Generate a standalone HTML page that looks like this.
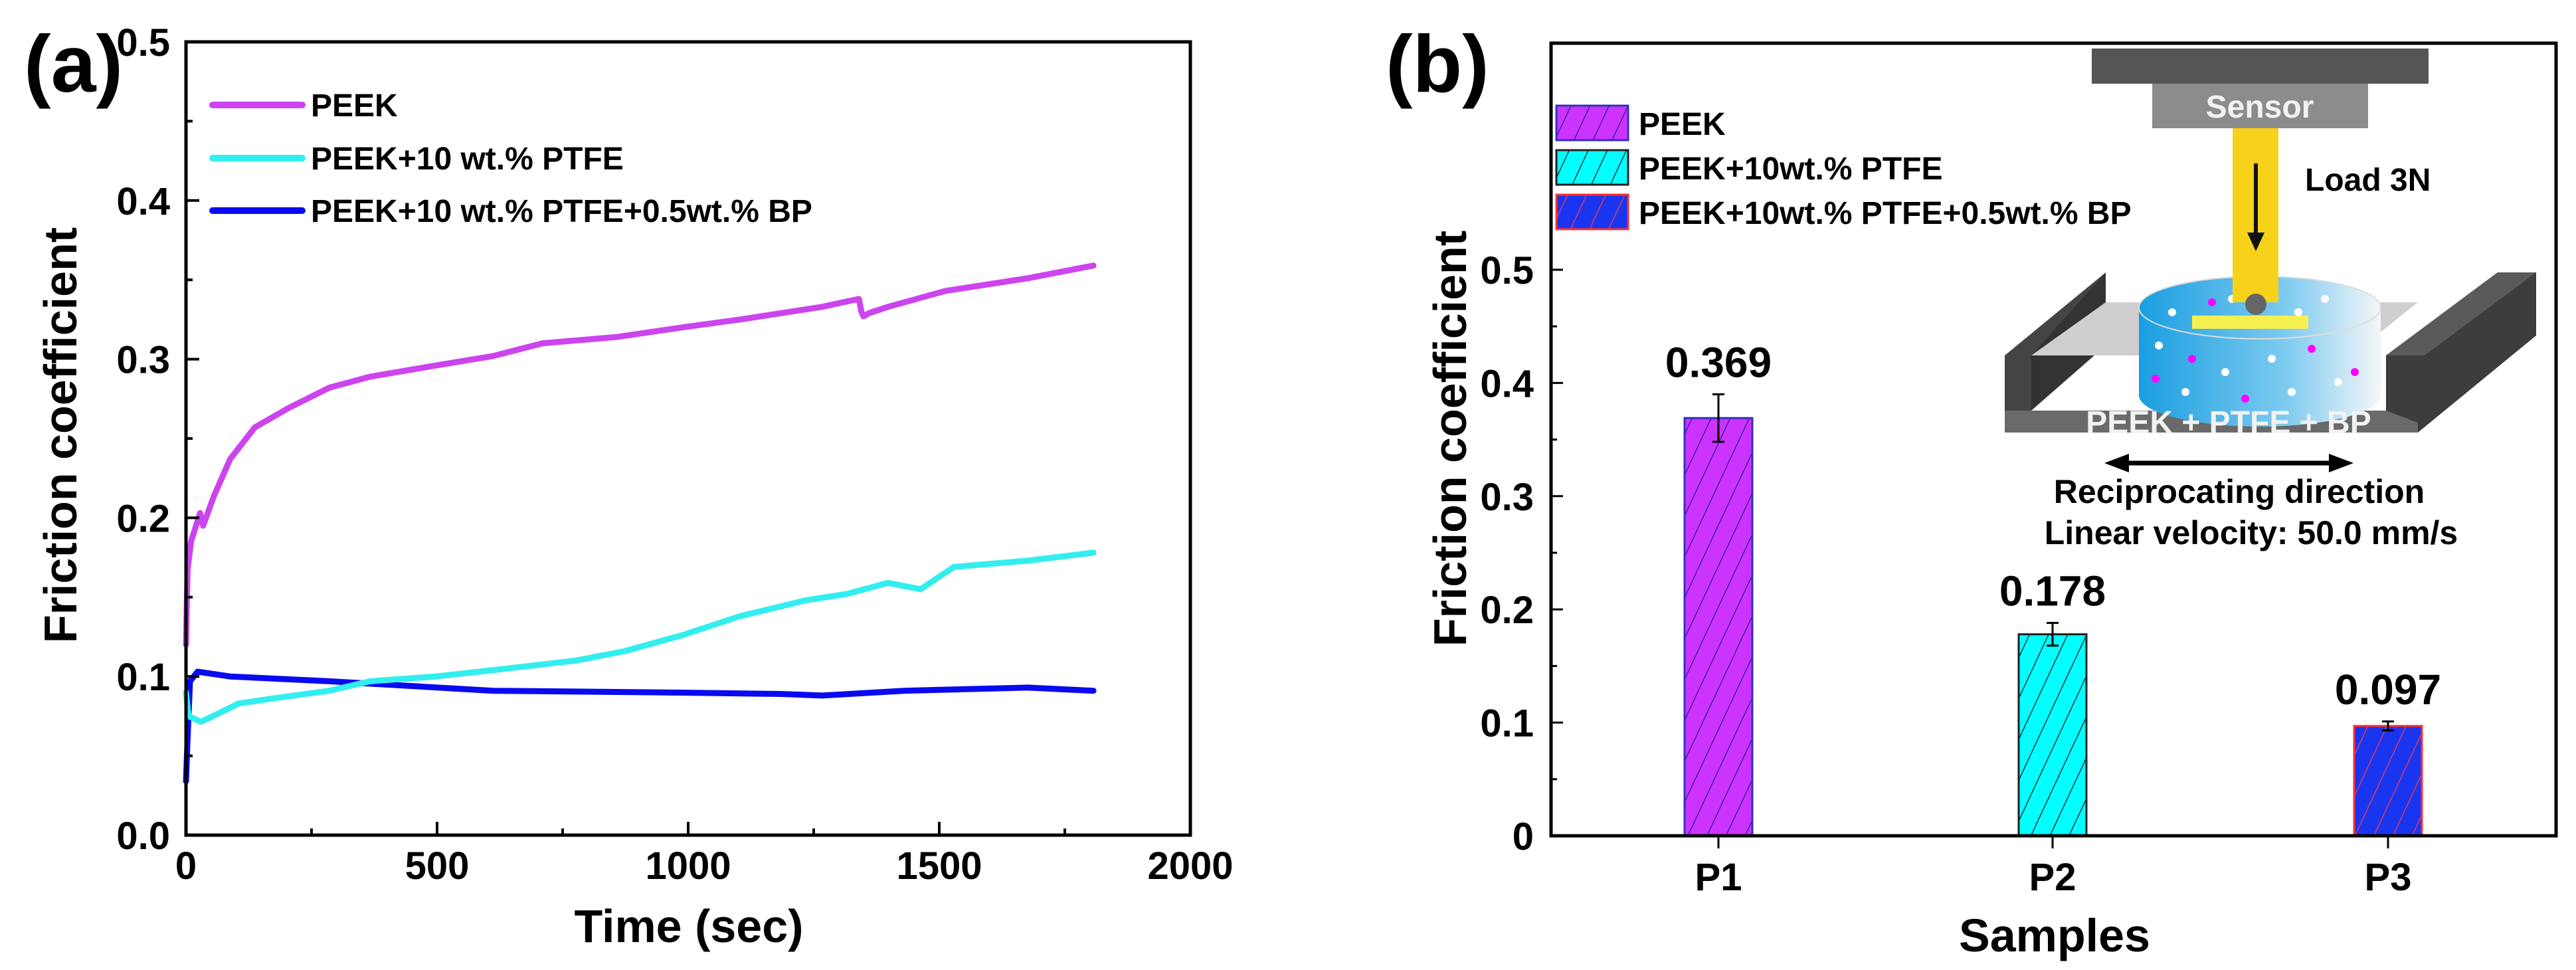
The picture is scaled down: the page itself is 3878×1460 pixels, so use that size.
<!DOCTYPE html>
<html><head><meta charset="utf-8"><style>
html,body{margin:0;padding:0;background:#fff}
svg{display:block}
text{font-family:"Liberation Sans",Arial,sans-serif;font-weight:bold;fill:#000}
</style></head><body>
<svg id="fig" width="3878" height="1460" viewBox="0 0 3878 1460" xmlns="http://www.w3.org/2000/svg">
<defs>
<pattern id="hatchP" patternUnits="userSpaceOnUse" width="26" height="26" patternTransform="rotate(25)"><rect width="26" height="26" fill="#cc33ff"/><line x1="0" y1="0" x2="0" y2="26" stroke="#2a1a80" stroke-width="2.5"/></pattern>
<pattern id="hatchC" patternUnits="userSpaceOnUse" width="26" height="26" patternTransform="rotate(25)"><rect width="26" height="26" fill="#00ffff"/><line x1="0" y1="0" x2="0" y2="26" stroke="#111" stroke-width="2.5"/></pattern>
<pattern id="hatchB" patternUnits="userSpaceOnUse" width="26" height="26" patternTransform="rotate(25)"><rect width="26" height="26" fill="#1a35f0"/><line x1="0" y1="0" x2="0" y2="26" stroke="#ff3b3b" stroke-width="2.5"/></pattern>
<linearGradient id="diskG" x1="0" y1="0" x2="1" y2="0"><stop offset="0" stop-color="#1a9ee0"/><stop offset="0.6" stop-color="#7ccaf0"/><stop offset="1" stop-color="#f4f6f8"/></linearGradient>
</defs>
<g id="panelA"></g>
<g id="panelB"></g>
</svg>
<script>
// ---------- Panel (a) data ----------
const aTicksX = [0, 500, 1000, 1500, 2000];
const aTicksY = [0.0, 0.1, 0.2, 0.3, 0.4, 0.5];
const aTickLabelsY = ["0.0","0.1","0.2","0.3","0.4","0.5"];
const aSeriesNames = ["PEEK","PEEK+10 wt.% PTFE","PEEK+10 wt.% PTFE+0.5wt.% BP"];
const peekT = [0,3,10,23,28,34,56,88,137,203,285,367,497,612,710,858,988,1103,1267,1340,1345,1349,1360,1398,1512,1676,1807];
const peekV = [0.12,0.167,0.185,0.198,0.203,0.195,0.214,0.237,0.257,0.269,0.282,0.289,0.296,0.302,0.31,0.314,0.32,0.325,0.333,0.338,0.33,0.327,0.329,0.333,0.343,0.351,0.359];
const ptfeT = [0,5,30,60,105,170,285,367,497,612,776,874,988,1103,1234,1316,1398,1463,1529,1676,1807];
const ptfeV = [0.09,0.075,0.0715,0.076,0.083,0.086,0.091,0.097,0.1,0.104,0.11,0.116,0.126,0.138,0.148,0.152,0.159,0.155,0.169,0.173,0.178];
const bpT = [0,3,8,23,88,285,448,612,939,1185,1267,1430,1676,1807];
const bpV = [0.034,0.06,0.097,0.103,0.1,0.097,0.094,0.091,0.09,0.089,0.088,0.091,0.093,0.091];
// ---------- Panel (b) data ----------
const bCategories = ["P1","P2","P3"];
const bValues = [0.369, 0.178, 0.097];
const bErrors = [0.021, 0.010, 0.004];
const bValueLabels = ["0.369","0.178","0.097"];
const bTicksY = [0, 0.1, 0.2, 0.3, 0.4, 0.5];
const bTickLabelsY = ["0","0.1","0.2","0.3","0.4","0.5"];
const bSeriesNames = ["PEEK","PEEK+10wt.% PTFE","PEEK+10wt.% PTFE+0.5wt.% BP"];

const NS = "http://www.w3.org/2000/svg";
function mk(parent, tag, attrs, txt){
  const e = document.createElementNS(NS, tag);
  for (const k in attrs) e.setAttribute(k, attrs[k]);
  if (txt !== undefined) e.textContent = txt;
  parent.appendChild(e);
  return e;
}

// ===== Panel A =====
const A = document.getElementById('panelA');
const aL=280, aR=1792, aT=63, aB=1257;
const ax = t => aL + (t/2000)*(aR-aL);
const ay = v => aB - (v/0.5)*(aB-aT);

let e;
e = mk(A,'text',{x:36,y:138,'font-size':122});
e.textContent='(a)';



const aColors = ["#cc44ee","#33eeee","#0a0af0"];
const aData = [[peekT,peekV],[ptfeT,ptfeV],[bpT,bpV]];
for (let s=2; s>=0; s--){
  const pts = aData[s][0].map((t,i)=>ax(t).toFixed(1)+','+ay(aData[s][1][i]).toFixed(1)).join(' ');
  e = mk(A,'polyline',{points:pts,fill:'none',stroke:aColors[s],'stroke-width':9,'stroke-linejoin':'round','stroke-linecap':'round'});
  
  
}
e = mk(A,'rect',{x:aL,y:aT,width:aR-aL,height:aB-aT,fill:'none',stroke:'#000','stroke-width':5});


for (let t=0;t<=2000;t+=250){
  const major = t%500===0;
  e = mk(A,'line',{x1:ax(t),x2:ax(t),y1:aB,y2:aB-(major?20:10),stroke:'#000','stroke-width':4});
  
  
}
aTicksX.forEach(t=>{
  e = mk(A,'text',{x:ax(t),y:1323,'font-size':58,'text-anchor':'middle'},String(t));
  
  
});
for (let k=0;k<=10;k++){
  const v=k*0.05, major=k%2===0;
  e = mk(A,'line',{x1:aL,x2:aL+(major?20:10),y1:ay(v),y2:ay(v),stroke:'#000','stroke-width':4});
  
  
}
aTicksY.forEach((v,i)=>{
  e = mk(A,'text',{x:256,y:ay(v)+21,'font-size':58,'text-anchor':'end'},aTickLabelsY[i]);
  
  
});
e = mk(A,'text',{x:1037,y:1418,'font-size':70,'text-anchor':'middle'},'Time (sec)');


e = mk(A,'text',{x:0,y:0,'font-size':70,'text-anchor':'middle',transform:'translate(115,655) rotate(-90)'},'Friction coefficient');


const aLegY=[158,238,317];
aSeriesNames.forEach((n,i)=>{
  const g = mk(A,'g',{});
  
  
  mk(g,'line',{x1:320,x2:455,y1:aLegY[i],y2:aLegY[i],stroke:aColors[i],'stroke-width':10,'stroke-linecap':'round'});
  mk(g,'text',{x:468,y:aLegY[i]+17,'font-size':48},n);
});

// ===== Panel B =====
const B = document.getElementById('panelB');
const bL=2335, bR=3848, bT=65, bB=1258;
const by = v => bB - v*1704;
const bxC = [2587, 3090, 3595];
const bW = 102;

e = mk(B,'text',{x:2086,y:138,'font-size':122},'(b)');



const I = mk(B,'g',{});


mk(I,'rect',{x:3149,y:73,width:507,height:53,fill:'#555'});
mk(I,'rect',{x:3240,y:126,width:325,height:67,fill:'#8c8c8c'});
mk(I,'text',{x:3402,y:177,'font-size':48,'text-anchor':'middle',style:'fill:#f2f2f2'},'Sensor');
mk(I,'polygon',{points:'3018,535 3170,410 3170,500 3058,585 3058,618 3018,618',fill:'#444'});
mk(I,'polygon',{points:'3058,535 3170,410 3170,520 3058,618',fill:'#333'});
mk(I,'polygon',{points:'3058,535 3540,535 3640,455 3170,455',fill:'#cfcfcf'});
mk(I,'polygon',{points:'3018,618 3640,618 3640,651 3018,651',fill:'#6a6a6a'});
mk(I,'polygon',{points:'3640,618 3818,470 3818,505 3640,651',fill:'#3a3a3a'});
mk(I,'polygon',{points:'3592,535 3760,410 3818,410 3818,505 3650,640 3592,618',fill:'#3d3d3d'});
mk(I,'polygon',{points:'3592,535 3760,410 3818,410 3650,535',fill:'#5a5a5a'});
mk(I,'path',{d:'M3220,463 L3220,595 A182,47 0 0 0 3584,595 L3584,463 Z',fill:'url(#diskG)'});
mk(I,'ellipse',{cx:3402,cy:463,rx:182,ry:47,fill:'url(#diskG)',stroke:'#ddd','stroke-width':2});
mk(I,'rect',{x:3300,y:475,width:175,height:20,fill:'#f4f050'});
const dots=[[3270,470,'#fff'],[3330,455,'#f0f'],[3460,470,'#fff'],[3250,520,'#fff'],[3300,540,'#f0f'],[3350,560,'#fff'],[3420,540,'#fff'],[3480,525,'#f0f'],[3520,575,'#fff'],[3290,590,'#fff'],[3380,600,'#f0f'],[3450,590,'#fff'],[3545,560,'#f0f'],[3245,570,'#f0f'],[3500,450,'#fff'],[3360,450,'#fff']];
dots.forEach(d=>mk(I,'circle',{cx:d[0],cy:d[1],r:6,fill:d[2]}));
mk(I,'rect',{x:3361,y:193,width:69,height:262,fill:'#f7d21a'});
mk(I,'circle',{cx:3396,cy:458,r:16,fill:'#666'});
mk(I,'line',{x1:3396,y1:246,x2:3396,y2:360,stroke:'#111','stroke-width':6});
mk(I,'polygon',{points:'3383,350 3409,350 3396,378',fill:'#111'});
mk(I,'text',{x:3470,y:287,'font-size':48},'Load 3N');
mk(I,'text',{x:3355,y:652,'font-size':48,'text-anchor':'middle',style:'fill:#f2f2f2'},'PEEK + PTFE + BP');
mk(I,'line',{x1:3195,y1:697,x2:3516,y2:697,stroke:'#000','stroke-width':7});
mk(I,'polygon',{points:'3168,697 3205,683 3205,711',fill:'#000'});
mk(I,'polygon',{points:'3543,697 3506,683 3506,711',fill:'#000'});
mk(I,'text',{x:3371,y:757,'font-size':50,'text-anchor':'middle'},'Reciprocating direction');
mk(I,'text',{x:3389,y:819,'font-size':50,'text-anchor':'middle'},'Linear velocity: 50.0 mm/s');

const bFills=['url(#hatchP)','url(#hatchC)','url(#hatchB)'];
const bStrokes=['#3030c0','#222','#ff3030'];
bCategories.forEach((c,i)=>{
  const x=bxC[i]-bW/2, y=by(bValues[i]);
  e = mk(B,'rect',{x:x,y:y,width:bW,height:bB-y,fill:bFills[i],stroke:bStrokes[i],'stroke-width':3});
  
  
  const eb = mk(B,'g',{stroke:'#000','stroke-width':3});
  
  
  const yt=by(bValues[i]+bErrors[i]), yb=by(bValues[i]-bErrors[i]);
  mk(eb,'line',{x1:bxC[i],x2:bxC[i],y1:yt,y2:yb});
  mk(eb,'line',{x1:bxC[i]-9,x2:bxC[i]+9,y1:yt,y2:yt});
  mk(eb,'line',{x1:bxC[i]-9,x2:bxC[i]+9,y1:yb,y2:yb});
  e = mk(B,'text',{x:bxC[i],y:by(bValues[i]+bErrors[i])-26,'font-size':64,'text-anchor':'middle'},bValueLabels[i]);
  
  
  e = mk(B,'line',{x1:bxC[i],x2:bxC[i],y1:bB,y2:bB+19,stroke:'#000','stroke-width':3});
  
  
  e = mk(B,'text',{x:bxC[i],y:1340,'font-size':58,'text-anchor':'middle'},c);
  
  
});
e = mk(B,'rect',{x:bL,y:bT,width:bR-bL,height:bB-bT,fill:'none',stroke:'#000','stroke-width':5});


for (let k=0;k<=10;k++){
  const v=k*0.05, major=k%2===0;
  e = mk(B,'line',{x1:bL,x2:bL+(major?18:9),y1:by(v),y2:by(v),stroke:'#000','stroke-width':3});
  
  
}
bTicksY.forEach((v,i)=>{
  e = mk(B,'text',{x:2309,y:by(v)+21,'font-size':58,'text-anchor':'end'},bTickLabelsY[i]);
  
  
});
e = mk(B,'text',{x:3093,y:1432,'font-size':70,'text-anchor':'middle'},'Samples');


e = mk(B,'text',{x:0,y:0,'font-size':70,'text-anchor':'middle',transform:'translate(2207,660) rotate(-90)'},'Friction coefficient');


const bLegY=[159,226,293];
bSeriesNames.forEach((n,i)=>{
  const g = mk(B,'g',{});
  
  
  mk(g,'rect',{x:2343,y:bLegY[i],width:108,height:52,fill:bFills[i],stroke:bStrokes[i],'stroke-width':3});
  mk(g,'text',{x:2467,y:bLegY[i]+44,'font-size':48},n);
});
</script>
</body></html>
